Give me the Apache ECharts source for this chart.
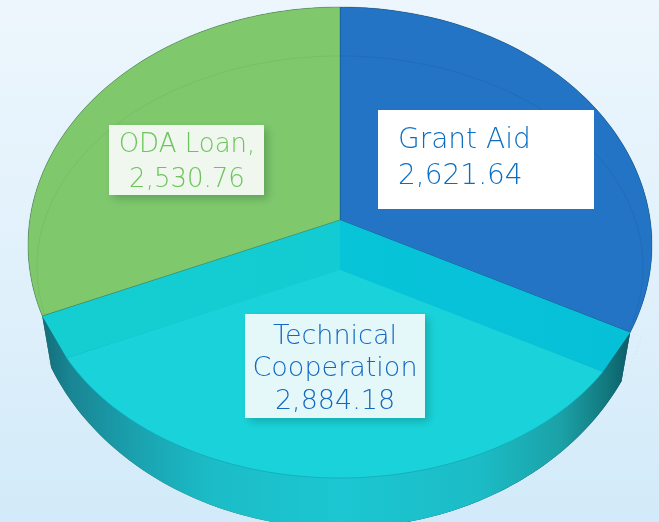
<!DOCTYPE html>
<html>
<head>
<meta charset="utf-8">
<style>html,body{margin:0;padding:0;background:#e3f1fb}#c{width:659px;height:522px}</style>
<script src="https://cdn.jsdelivr.net/npm/echarts@6/dist/echarts.min.js"></script>
</head>
<body>
<div id="c"></div>
<script>
const categories = ['Grant Aid', 'Technical Cooperation', 'ODA Loan'];
const values = [2621.64, 2884.18, 2530.76];
const labelNames = ['Grant Aid', 'Technical\nCooperation', 'ODA Loan,'];
const faceColors = ['#2374c4', '#1ad3da', '#80c86c'];
const ringColors = ['#2068b4', '#12a9b8', '#74bc62'];
const wallColors = ['#1a3a6b', '#1bc7d2', '#56622f'];
const labelBoxes = [
  {x: 378, y: 110, w: 216, h: 99, tx: 398, ty: 159, align: 'left', bg: '#ffffff', color: '#0a6fc4', size: 28, lh: 36, shadow: 0},
  {x: 245, y: 314, w: 180, h: 104, tx: 335, ty: 369, align: 'center', bg: '#e5f8f9', color: '#1468c0', size: 27, lh: 32.5, shadow: 8},
  {x: 109, y: 125, w: 155, h: 70, tx: 187, ty: 163, align: 'center', bg: '#eff7ee', color: '#6cc45c', size: 26, lh: 35, shadow: 8}
];

const spoke = {x: 340, y: 220, a: 323, b: 241};
const dropCentre = {x: 340, y: 270};
const topEdge = {x: 340, y: 245, rx: 312, ry: 238};
const innerEdge = {x: 340, y: 267, rx: 303, ry: 211};
const wallEdge = {x: 340, y: 270, rx: 312, ry: 258};

const total = values.reduce((s, v) => s + v, 0);
function angles(i) {
  let s = 0;
  for (let k = 0; k < i; k++) s += values[k];
  return [s / total * 2 * Math.PI, (s + values[i]) / total * 2 * Math.PI];
}
function hit(c, th, e) {
  const dx = spoke.a * Math.sin(th), dy = -spoke.b * Math.cos(th);
  const ox = (c.x - e.x) / e.rx, oy = (c.y - e.y) / e.ry;
  const A = (dx / e.rx) ** 2 + (dy / e.ry) ** 2;
  const B = 2 * (ox * dx / e.rx + oy * dy / e.ry);
  const C = ox * ox + oy * oy - 1;
  const t = (-B + Math.sqrt(B * B - 4 * A * C)) / (2 * A);
  return [c.x + dx * t, c.y + dy * t];
}
function arc(c, e, a0, a1) {
  const out = [], n = 90;
  for (let k = 0; k <= n; k++) out.push(hit(c, a0 + (a1 - a0) * k / n, e));
  return out;
}
function wallPoint(p) {
  const x = wallEdge.x + (p[0] - wallEdge.x) * 0.97;
  const u = Math.min(1, Math.abs(x - wallEdge.x) / wallEdge.rx);
  return [x, wallEdge.y + wallEdge.ry * Math.sqrt(1 - u * u)];
}
const hGrad = stops => ({type: 'linear', x: 0, y: 0, x2: 659, y2: 0, global: true,
  colorStops: stops.map(s => ({offset: s[0] / 659, color: s[1]}))});
const tealWall = hGrad([[45,'#146f7c'],[70,'#198593'],[130,'#1a9fad'],[210,'#1bbcc7'],[340,'#1bc7d2'],[480,'#1bbcc6'],[560,'#1ba2a8'],[605,'#127a80'],[628,'#0c5f69']]);
const tealBand = hGrad([[40,'#15ced1'],[340,'#13ccd3'],[340.5,'#08c4d8'],[630,'#06c0d8']]);

function sideWallItem(params) {
  const i = params.dataIndex;
  if (i === 1) return null;
  const [a0, a1] = angles(i);
  const top = arc(spoke, topEdge, a0, a1);
  return {type: 'polygon', shape: {points: top.concat(top.map(wallPoint).reverse())},
    style: {fill: wallColors[i]}};
}
function frontWallItem(params) {
  const i = params.dataIndex;
  if (i !== 1) return null;
  const [a0, a1] = angles(i);
  const top = arc(spoke, topEdge, a0, a1);
  const pts = [[spoke.x, spoke.y], top[0]].concat(top.map(wallPoint), [top[top.length - 1]]);
  return {type: 'polygon', shape: {points: pts}, style: {fill: tealWall}};
}
function faceItem(params) {
  const i = params.dataIndex;
  const [a0, a1] = angles(i);
  const outer = arc(spoke, topEdge, a0, a1);
  if (i === 1) {
    const inner = arc(dropCentre, innerEdge, a0, a1);
    const band = [[spoke.x, spoke.y], outer[0], inner[0], [dropCentre.x, dropCentre.y], inner[inner.length - 1], outer[outer.length - 1]];
    return {type: 'group', children: [
      {type: 'polygon', shape: {points: band}, style: {fill: tealBand}},
      {type: 'polygon', shape: {points: [[dropCentre.x, dropCentre.y]].concat(inner)}, style: {fill: faceColors[i]}},
      {type: 'polyline', shape: {points: inner}, style: {fill: 'none', stroke: ringColors[i], lineWidth: 0.8}}
    ]};
  }
  return {type: 'group', children: [
    {type: 'polygon', shape: {points: [[spoke.x, spoke.y]].concat(outer)},
      style: {fill: faceColors[i], stroke: 'rgba(0,70,70,0.4)', lineWidth: 0.7}},
    {type: 'polyline', shape: {points: arc(spoke, innerEdge, a0, a1)},
      style: {fill: 'none', stroke: ringColors[i], lineWidth: 0.7}}
  ]};
}
function labelItem(params) {
  const i = params.dataIndex, b = labelBoxes[i];
  const amount = values[i].toLocaleString('en-US', {minimumFractionDigits: 2, maximumFractionDigits: 2});
  return {type: 'group', children: [
    {type: 'rect', shape: {x: b.x, y: b.y, width: b.w, height: b.h},
      style: {fill: b.bg, shadowBlur: b.shadow, shadowOffsetX: b.shadow / 2, shadowOffsetY: b.shadow / 2, shadowColor: 'rgba(0,60,40,0.25)'}},
    {type: 'text', style: {x: b.tx, y: b.ty, text: labelNames[i] + '\n' + amount, fill: b.color,
      font: '200 ' + b.size + 'px "DejaVu Sans", sans-serif', lineHeight: b.lh, align: b.align, verticalAlign: 'middle'}}
  ]};
}
const data = values.map((v, i) => ({name: categories[i], value: v}));
const chart = echarts.init(document.getElementById('c'), null, {renderer: 'canvas'});
chart.setOption({
  animation: false,
  backgroundColor: {type: 'linear', x: 0, y: 0, x2: 0, y2: 1,
    colorStops: [{offset: 0, color: '#edf6fd'}, {offset: 0.5, color: '#e1f1fb'}, {offset: 1, color: '#d2eaf9'}]},
  series: [
    {type: 'custom', coordinateSystem: 'none', z: 1, data, renderItem: sideWallItem, silent: true},
    {type: 'custom', coordinateSystem: 'none', z: 2, data, renderItem: frontWallItem, silent: true},
    {type: 'custom', coordinateSystem: 'none', z: 3, data, renderItem: faceItem, silent: true},
    {type: 'custom', coordinateSystem: 'none', z: 4, data, renderItem: labelItem, silent: true}
  ]
});
</script>
</body>
</html>
